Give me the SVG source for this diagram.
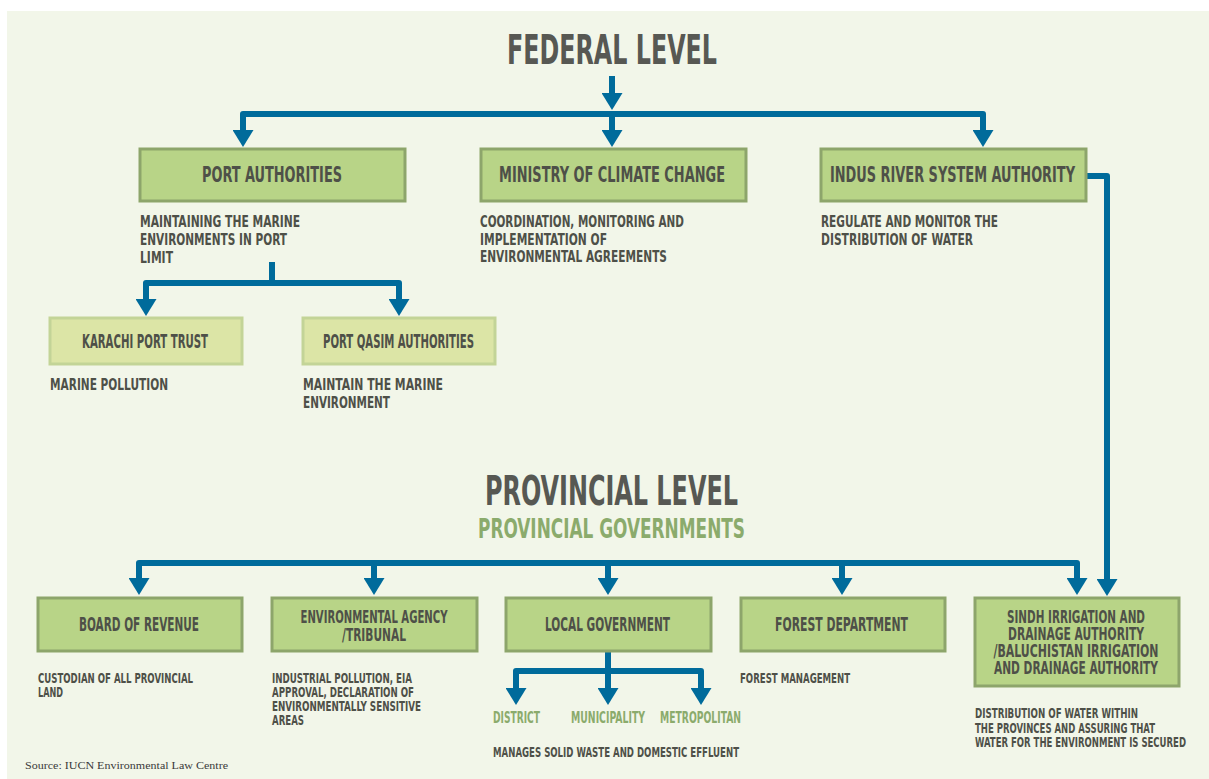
<svg xmlns="http://www.w3.org/2000/svg" width="1209" height="779" viewBox="0 0 1209 779">
<defs>
<style>
.t{font-family:"Liberation Sans Narrow","DejaVu Sans Condensed","Liberation Sans",sans-serif;font-weight:bold;font-stretch:condensed;fill:#4e5048}
.title{font-size:40px;fill:#575853}
.sub{fill:#8bab6c}
.bx{fill:#b8d487;stroke:#8da56b;stroke-width:3}
.lbx{fill:#dce5a6;stroke:#c3d497;stroke-width:3}
.fb{font-size:21px}
.pb{font-size:19px}
.sb{font-size:17.5px;text-anchor:middle}
.d1{font-size:16.5px}
.d2{font-size:14px}
.lab{font-size:15px;text-anchor:middle}
.con path{fill:none;stroke:#006b9b;stroke-width:6;stroke-linejoin:round;stroke-linecap:butt}
</style>
<marker id="ah" markerUnits="userSpaceOnUse" markerWidth="17" markerHeight="21" viewBox="0 0 17 21" refX="0" refY="10.5" orient="auto">
<path d="M0,0 L17,10.5 L0,21 Z" fill="#006b9b"/>
</marker>
</defs>
<rect x="7" y="11" width="1202" height="768" fill="#f2f6e9"/>

<g id="federal-title"><text class="t title" x="507" y="64" textLength="210" lengthAdjust="spacingAndGlyphs">FEDERAL LEVEL</text></g>

<g class="con" id="connectors">
<path d="M612,76 V93" stroke-linecap="round" marker-end="url(#ah)"/>
<path d="M612,114 H243 V130" marker-end="url(#ah)"/>
<path d="M612,114 H983 V130" marker-end="url(#ah)"/>
<path d="M612,114 V130" marker-end="url(#ah)"/>
<path d="M1086,176 H1107 V579" marker-end="url(#ah)"/>
<path d="M272,262 V283 H146 V299" stroke-linecap="round" marker-end="url(#ah)"/>
<path d="M272,283 H399 V299" marker-end="url(#ah)"/>
<path d="M608,563 H139 V578" marker-end="url(#ah)"/>
<path d="M608,563 H1077 V578" marker-end="url(#ah)"/>
<path d="M374,563 V578" marker-end="url(#ah)"/>
<path d="M608,563 V578" marker-end="url(#ah)"/>
<path d="M842,563 V578" marker-end="url(#ah)"/>
<path d="M608,651 V688" marker-end="url(#ah)"/>
<path d="M608,671 H516 V688" marker-end="url(#ah)"/>
<path d="M608,671 H701 V688" marker-end="url(#ah)"/>
</g>

<g id="port-authorities">
<rect class="bx" x="140" y="149" width="265" height="52"/>
<text class="t fb" x="202" y="182" textLength="140" lengthAdjust="spacingAndGlyphs">PORT AUTHORITIES</text>
<text class="t d1" x="140" y="227" textLength="160" lengthAdjust="spacingAndGlyphs">MAINTAINING THE MARINE</text>
<text class="t d1" x="140" y="245" textLength="147" lengthAdjust="spacingAndGlyphs">ENVIRONMENTS IN PORT</text>
<text class="t d1" x="140" y="263" textLength="33" lengthAdjust="spacingAndGlyphs">LIMIT</text>
</g>

<g id="ministry-climate-change">
<rect class="bx" x="481" y="149" width="265" height="52"/>
<text class="t fb" x="499" y="182" textLength="226" lengthAdjust="spacingAndGlyphs">MINISTRY OF CLIMATE CHANGE</text>
<text class="t d1" x="480" y="227" textLength="204" lengthAdjust="spacingAndGlyphs">COORDINATION, MONITORING AND</text>
<text class="t d1" x="480" y="245" textLength="127" lengthAdjust="spacingAndGlyphs">IMPLEMENTATION OF</text>
<text class="t d1" x="480" y="262" textLength="187" lengthAdjust="spacingAndGlyphs">ENVIRONMENTAL AGREEMENTS</text>
</g>

<g id="indus-river-system-authority">
<rect class="bx" x="821" y="149" width="265" height="52"/>
<text class="t fb" x="830" y="182" textLength="245" lengthAdjust="spacingAndGlyphs">INDUS RIVER SYSTEM AUTHORITY</text>
<text class="t d1" x="821" y="227" textLength="177" lengthAdjust="spacingAndGlyphs">REGULATE AND MONITOR THE</text>
<text class="t d1" x="821" y="245" textLength="152" lengthAdjust="spacingAndGlyphs">DISTRIBUTION OF WATER</text>
</g>

<g id="karachi-port-trust">
<rect class="lbx" x="50" y="318" width="192" height="46"/>
<text class="t pb" x="82" y="348" textLength="126" lengthAdjust="spacingAndGlyphs">KARACHI PORT TRUST</text>
<text class="t d1" x="50" y="390" textLength="118" lengthAdjust="spacingAndGlyphs">MARINE POLLUTION</text>
</g>

<g id="port-qasim-authorities">
<rect class="lbx" x="303" y="318" width="192" height="46"/>
<text class="t pb" x="323" y="348" textLength="151" lengthAdjust="spacingAndGlyphs">PORT QASIM AUTHORITIES</text>
<text class="t d1" x="303" y="390" textLength="140" lengthAdjust="spacingAndGlyphs">MAINTAIN THE MARINE</text>
<text class="t d1" x="303" y="408" textLength="87" lengthAdjust="spacingAndGlyphs">ENVIRONMENT</text>
</g>

<g id="provincial-title">
<text class="t" style="font-size:41px;fill:#575853" x="485" y="505" textLength="253" lengthAdjust="spacingAndGlyphs">PROVINCIAL LEVEL</text>
<text class="t sub" style="font-size:27px" x="478" y="538" textLength="267" lengthAdjust="spacingAndGlyphs">PROVINCIAL GOVERNMENTS</text>
</g>

<g id="board-of-revenue">
<rect class="bx" x="38" y="598" width="204" height="53"/>
<text class="t pb" x="79" y="631" textLength="120" lengthAdjust="spacingAndGlyphs">BOARD OF REVENUE</text>
<text class="t d2" x="38" y="683" textLength="155" lengthAdjust="spacingAndGlyphs">CUSTODIAN OF ALL PROVINCIAL</text>
<text class="t d2" x="38" y="697" textLength="25" lengthAdjust="spacingAndGlyphs">LAND</text>
</g>

<g id="environmental-agency">
<rect class="bx" x="272" y="598" width="205" height="53"/>
<text class="t sb" x="374" y="623" textLength="147" lengthAdjust="spacingAndGlyphs">ENVIRONMENTAL AGENCY</text>
<text class="t sb" x="374" y="641" textLength="64" lengthAdjust="spacingAndGlyphs">/TRIBUNAL</text>
<text class="t d2" x="272" y="683" textLength="140" lengthAdjust="spacingAndGlyphs">INDUSTRIAL POLLUTION, EIA</text>
<text class="t d2" x="272" y="697" textLength="142" lengthAdjust="spacingAndGlyphs">APPROVAL, DECLARATION OF</text>
<text class="t d2" x="272" y="711" textLength="149" lengthAdjust="spacingAndGlyphs">ENVIRONMENTALLY SENSITIVE</text>
<text class="t d2" x="272" y="725" textLength="32" lengthAdjust="spacingAndGlyphs">AREAS</text>
</g>

<g id="local-government">
<rect class="bx" x="506" y="598" width="205" height="53"/>
<text class="t pb" x="545" y="631" textLength="125" lengthAdjust="spacingAndGlyphs">LOCAL GOVERNMENT</text>
</g>

<g id="district"><text class="t sub lab" x="516.5" y="723" textLength="47" lengthAdjust="spacingAndGlyphs">DISTRICT</text></g>
<g id="municipality"><text class="t sub lab" x="608" y="723" textLength="74" lengthAdjust="spacingAndGlyphs">MUNICIPALITY</text></g>
<g id="metropolitan"><text class="t sub lab" x="700.5" y="723" textLength="81" lengthAdjust="spacingAndGlyphs">METROPOLITAN</text></g>
<g id="local-desc"><text class="t d2" x="493" y="757" textLength="246" lengthAdjust="spacingAndGlyphs">MANAGES SOLID WASTE AND DOMESTIC EFFLUENT</text></g>

<g id="forest-department">
<rect class="bx" x="741" y="598" width="204" height="53"/>
<text class="t pb" x="775" y="631" textLength="133" lengthAdjust="spacingAndGlyphs">FOREST DEPARTMENT</text>
<text class="t d2" x="740" y="683" textLength="110" lengthAdjust="spacingAndGlyphs">FOREST MANAGEMENT</text>
</g>

<g id="sindh-baluchistan-irrigation">
<rect class="bx" x="975" y="598" width="204" height="88"/>
<text class="t sb" x="1076" y="623" textLength="138" lengthAdjust="spacingAndGlyphs">SINDH IRRIGATION AND</text>
<text class="t sb" x="1076" y="640" textLength="136" lengthAdjust="spacingAndGlyphs">DRAINAGE AUTHORITY</text>
<text class="t sb" x="1076" y="657" textLength="165" lengthAdjust="spacingAndGlyphs">/BALUCHISTAN IRRIGATION</text>
<text class="t sb" x="1076" y="674" textLength="164" lengthAdjust="spacingAndGlyphs">AND DRAINAGE AUTHORITY</text>
<text class="t d2" x="1138" y="718" text-anchor="end" textLength="163" lengthAdjust="spacingAndGlyphs">DISTRIBUTION OF WATER WITHIN</text>
<text class="t d2" x="1155" y="733" text-anchor="end" textLength="180" lengthAdjust="spacingAndGlyphs">THE PROVINCES AND ASSURING THAT</text>
<text class="t d2" x="1186" y="747" text-anchor="end" textLength="211" lengthAdjust="spacingAndGlyphs">WATER FOR THE ENVIRONMENT IS SECURED</text>
</g>

<g id="source"><text x="25" y="769" style="font-family:'Liberation Serif',serif;font-size:11px;fill:#3a3a3a" textLength="203" lengthAdjust="spacingAndGlyphs">Source: IUCN Environmental Law Centre</text></g>
</svg>
